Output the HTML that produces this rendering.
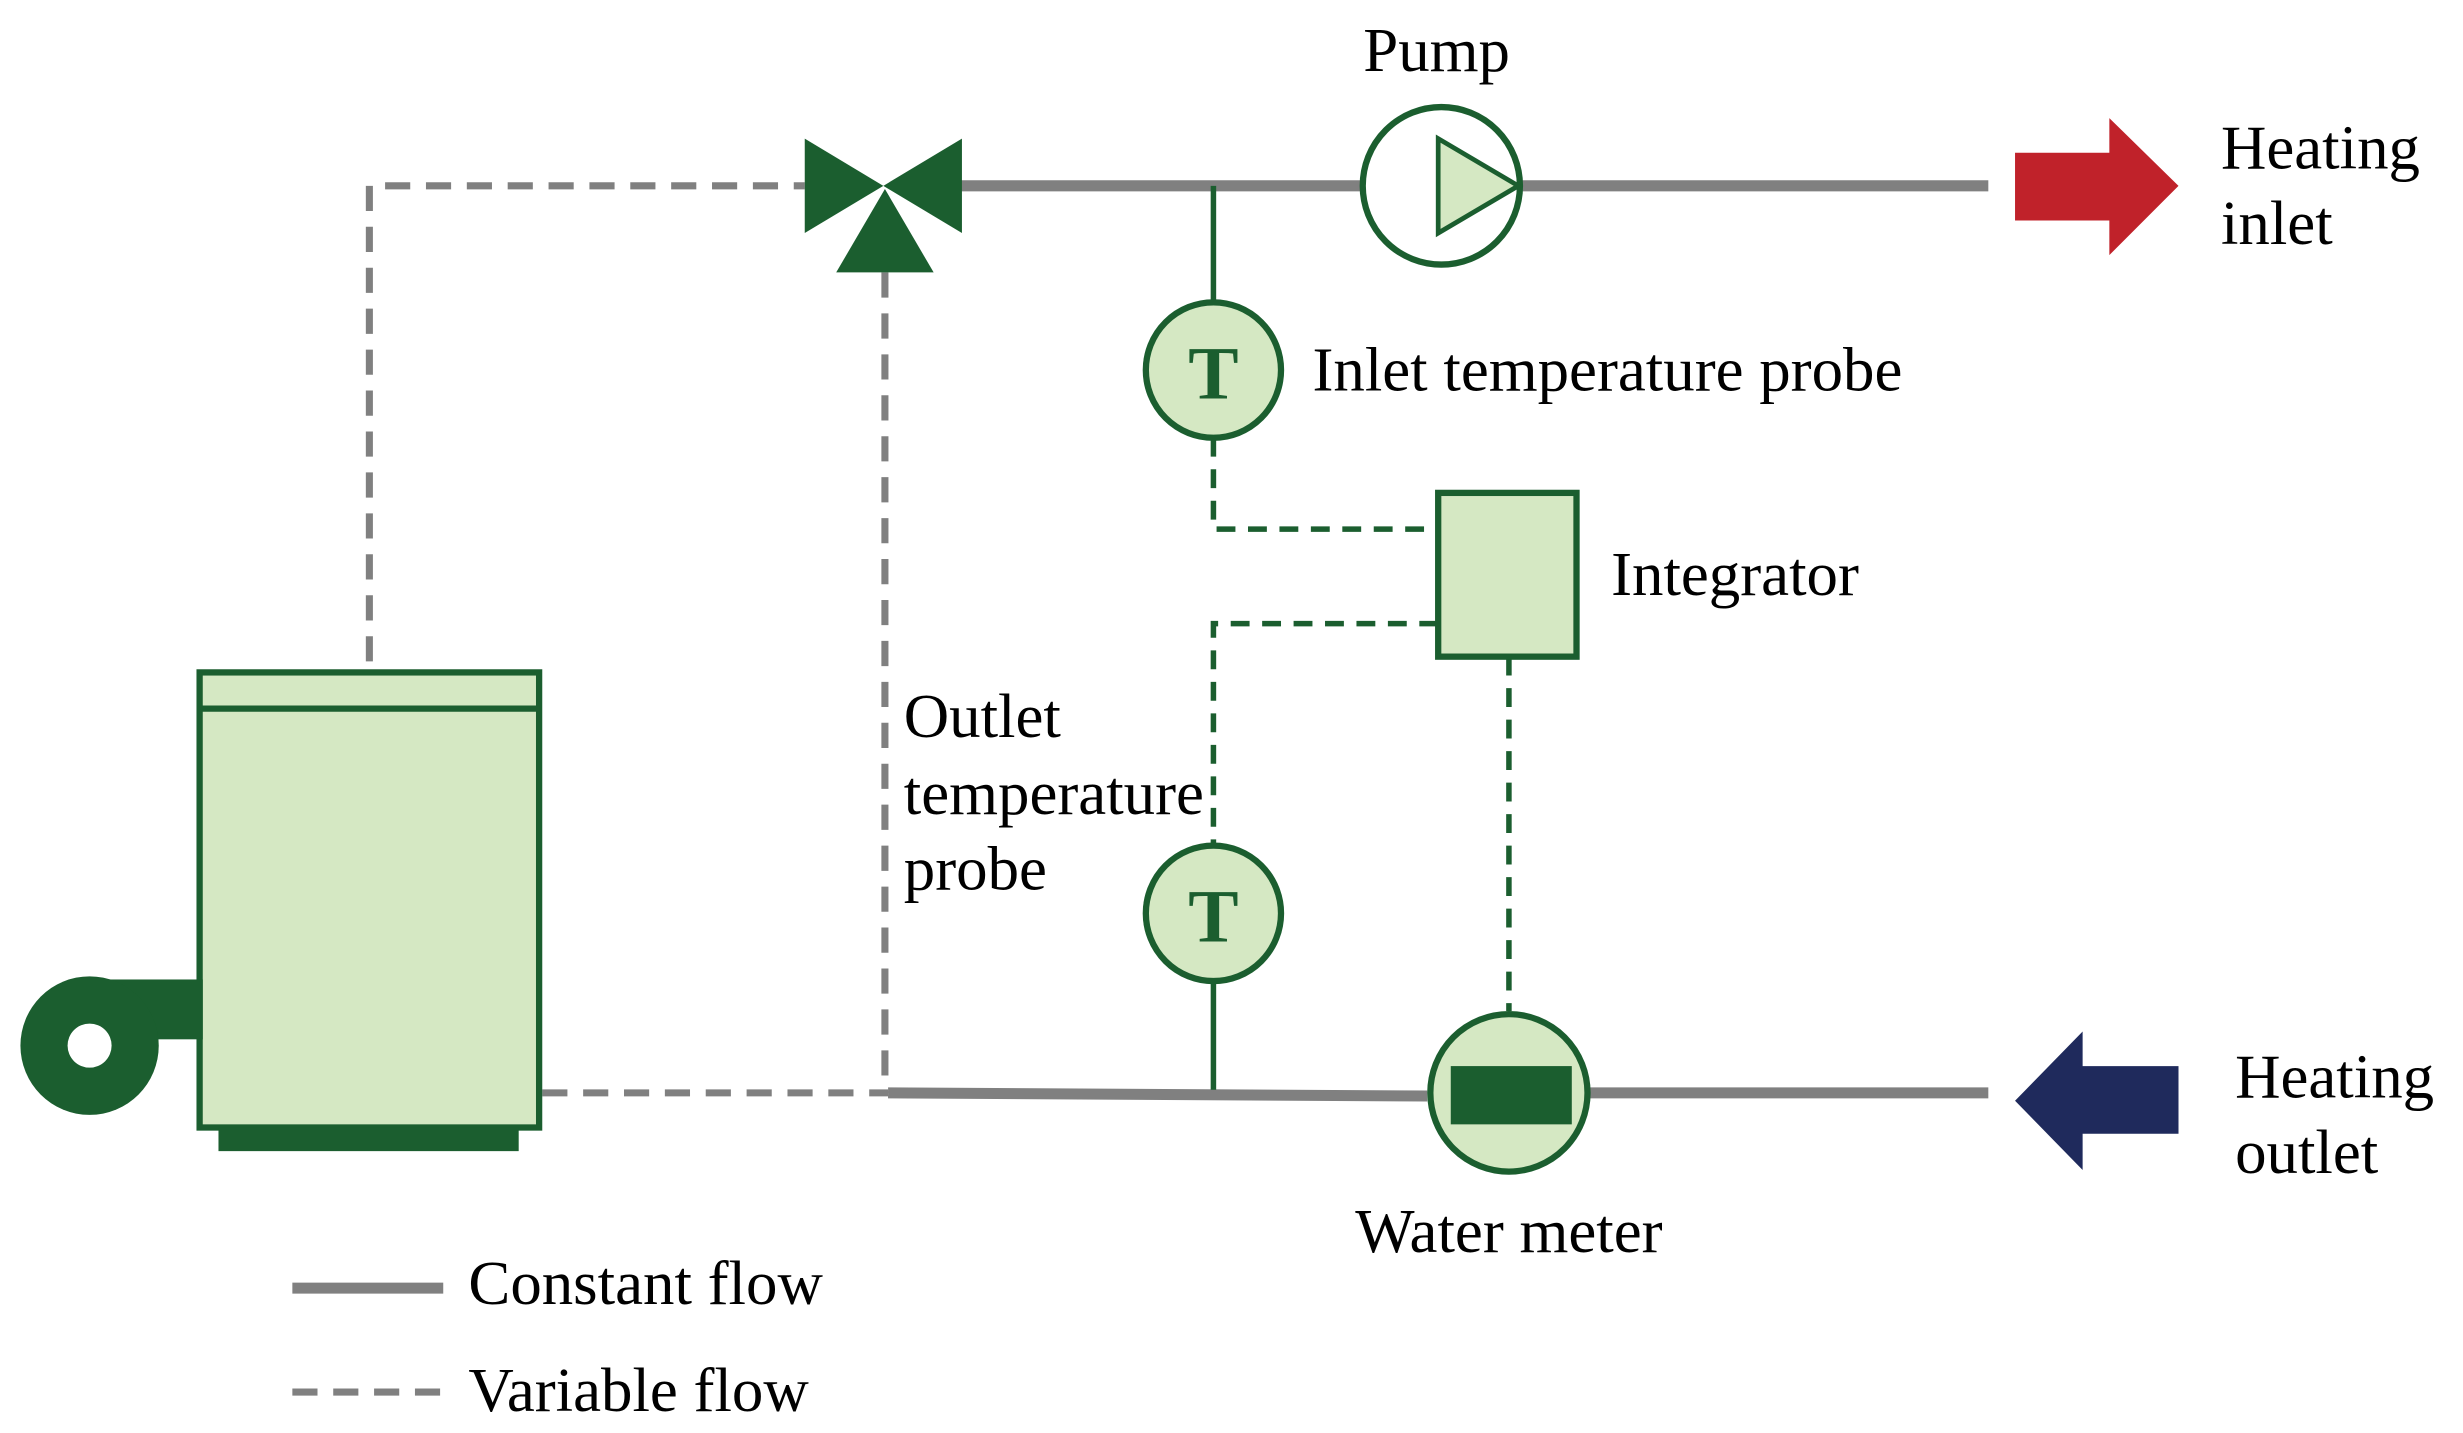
<!DOCTYPE html>
<html><head><meta charset="utf-8"><style>html,body{margin:0;padding:0;background:#fff}svg{display:block}text{font-family:"Liberation Serif",serif;font-size:40px;fill:#000}</style></head>
<body>
<svg width="2463" height="1433" viewBox="0 0 1567 910" preserveAspectRatio="none" xmlns="http://www.w3.org/2000/svg">
<g stroke="#808080" stroke-width="7" fill="none">
<line x1="600" y1="118" x2="1265" y2="118"/>
<line x1="565" y1="694" x2="908" y2="696"/>
<line x1="1010" y1="694" x2="1265" y2="694"/>
<line x1="186" y1="818" x2="282" y2="818"/>
</g>
<g stroke="#808080" stroke-width="4.5" fill="none" stroke-dasharray="16,10">
<polyline points="235,420 235,118 512,118"/>
<line x1="345" y1="694" x2="565" y2="694"/>
<line x1="563" y1="173" x2="563" y2="694"/>
<line x1="186" y1="884" x2="282" y2="884"/>
</g>
<g stroke="#1b5e2f" stroke-width="3.5" fill="none">
<line x1="772" y1="118" x2="772" y2="192"/>
<line x1="772" y1="623" x2="772" y2="692"/>
</g>
<g stroke="#1b5e2f" stroke-width="3.5" fill="none" stroke-dasharray="12,8">
<polyline points="772,278 772,336 915,336"/>
<polyline points="915,396 772,396 772,537"/>
<line x1="960" y1="417" x2="960" y2="642"/>
</g>
<g fill="#1b5e2f">
<polygon points="512,88 512,148 562,118"/>
<polygon points="612,88 612,148 562,118"/>
<polygon points="532,173 594,173 563,120"/>
</g>
<circle cx="917" cy="118" r="50" fill="#fff" stroke="#1b5e2f" stroke-width="4"/>
<polygon points="915,88 915,148 966,118" fill="#d5e8c3" stroke="#1b5e2f" stroke-width="3"/>
<g fill="#d5e8c3" stroke="#1b5e2f" stroke-width="4">
<circle cx="772" cy="235" r="43"/>
<circle cx="772" cy="580" r="43"/>
<rect x="915" y="313" width="88" height="104"/>
<circle cx="960" cy="694" r="50"/>
<rect x="127" y="427" width="216" height="289"/>
<line x1="127" y1="450" x2="343" y2="450"/>
</g>
<rect x="923" y="677" width="77" height="37" fill="#1b5e2f"/>
<text x="772" y="253" text-anchor="middle" style="font-weight:bold;font-size:48px;fill:#1b5e2f">T</text>
<text x="772" y="598" text-anchor="middle" style="font-weight:bold;font-size:48px;fill:#1b5e2f">T</text>
<rect x="139" y="716" width="191" height="15" fill="#1b5e2f"/>
<rect x="57" y="622" width="72" height="38" fill="#1b5e2f"/>
<circle cx="57" cy="664" r="44" fill="#1b5e2f"/>
<circle cx="57" cy="664" r="14" fill="#fff"/>
<polygon points="1282,97 1342,97 1342,75 1386,118 1342,162 1342,140 1282,140" fill="#c0222a"/>
<polygon points="1282,699 1325,655 1325,677 1386,677 1386,720 1325,720 1325,743" fill="#1f2a5c"/>
<text x="914" y="45" text-anchor="middle">Pump</text>
<text x="1413" y="107">Heating</text>
<text x="1413" y="155">inlet</text>
<text x="835" y="248">Inlet temperature probe</text>
<text x="1025" y="378">Integrator</text>
<text x="575" y="468">Outlet</text>
<text x="575" y="517">temperature</text>
<text x="575" y="565">probe</text>
<text x="960" y="795" text-anchor="middle">Water meter</text>
<text x="1422" y="697">Heating</text>
<text x="1422" y="745">outlet</text>
<text x="298" y="828">Constant flow</text>
<text x="298" y="896">Variable flow</text>
</svg>
</body></html>
